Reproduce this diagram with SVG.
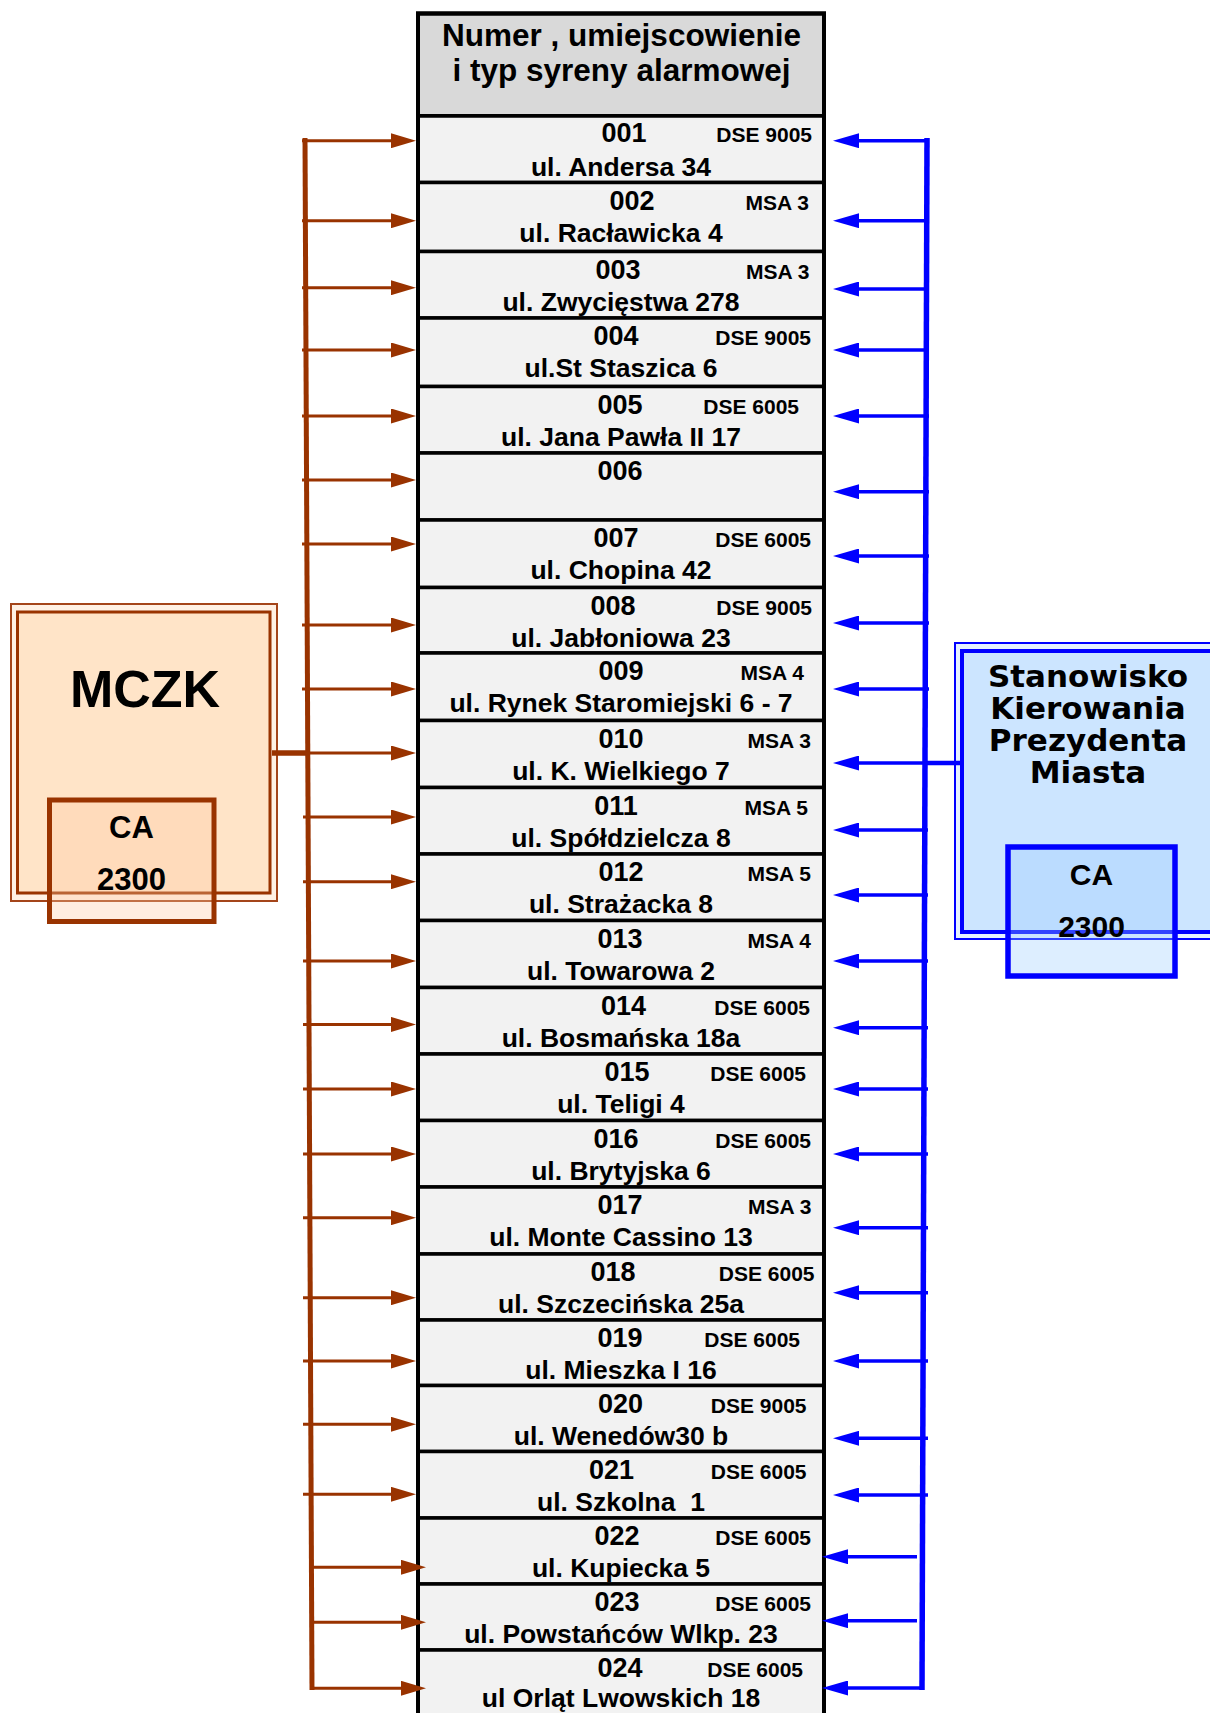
<svg xmlns="http://www.w3.org/2000/svg" width="1210" height="1713" viewBox="0 0 1210 1713">
<defs>
<marker id="ab" viewBox="0 0 25 15" refX="0" refY="7.5" markerWidth="25" markerHeight="15" markerUnits="userSpaceOnUse" orient="auto"><path d="M0,0 L25,7.5 L0,15 z" fill="#993300"/></marker>
<marker id="bb" viewBox="0 0 26 15" refX="0" refY="7.5" markerWidth="26" markerHeight="15" markerUnits="userSpaceOnUse" orient="auto"><path d="M0,0 L26,7.5 L0,15 z" fill="#0000FF"/></marker>
</defs>
<style>
.t{font-family:"Liberation Sans",Arial,sans-serif;font-weight:bold;fill:#000}
.num{font-size:27px;text-anchor:middle}
.typ{font-size:21px;text-anchor:end}
.adr{font-size:26.5px;text-anchor:middle;white-space:pre}
.row{fill:#F2F2F2;stroke:#000;stroke-width:3.5}
.br{stroke:#993300;stroke-width:3;fill:none}
.bl{stroke:#0000FF;stroke-width:3.5;fill:none}
.dv{font-family:"DejaVu Sans",Verdana,sans-serif;font-weight:bold;font-size:31px;text-anchor:middle;fill:#000}
</style>
<rect width="1210" height="1713" fill="#FFFFFF"/>

<g id="mczk">
<rect x="11" y="604" width="266" height="297" fill="#FFF1E4" stroke="#A4451A" stroke-width="2"/>
<rect x="17.5" y="612" width="252.5" height="281" fill="#FFE4C8" stroke="#993300" stroke-width="3"/>
<text class="t" x="145" y="707" font-size="52" text-anchor="middle">MCZK</text>
<rect x="49.5" y="800" width="164.5" height="121.5" fill="#FFC9A2" fill-opacity="0.33" stroke="#993300" stroke-width="5"/>
<text class="t" x="131.5" y="838" font-size="31" text-anchor="middle">CA</text>
<text class="t" x="131.5" y="890" font-size="31" text-anchor="middle">2300</text>
</g>

<g id="skpm">
<rect x="955" y="643" width="280" height="296" fill="#E6F1FF" stroke="#0000FF" stroke-width="2"/>
<rect x="962" y="651" width="270" height="281" fill="#CCE5FF" stroke="#0000FF" stroke-width="4"/>
<text class="dv" x="1088" y="686.5">Stanowisko</text>
<text class="dv" x="1088" y="719">Kierowania</text>
<text class="dv" x="1088" y="751">Prezydenta</text>
<text class="dv" x="1088" y="782.5">Miasta</text>
<rect x="1008" y="847" width="167" height="129" fill="#99CCFF" fill-opacity="0.33" stroke="#0000FF" stroke-width="5.5"/>
<text class="t" x="1091.5" y="884.5" font-size="30" text-anchor="middle">CA</text>
<text class="t" x="1091.5" y="937" font-size="30" text-anchor="middle">2300</text>
</g>

<g id="table">
<g id="header">
<rect x="418" y="13.5" width="406" height="102.5" fill="#D9D9D9" stroke="#000" stroke-width="4"/>
<text class="t" x="621.5" y="46" font-size="31.5" text-anchor="middle">Numer , umiejscowienie</text>
<text class="t" x="621.5" y="81" font-size="31.5" text-anchor="middle">i typ syreny alarmowej</text>
</g>
<g id="row-001"><rect class="row" x="418" y="116" width="406" height="66.5"/><text class="t num" x="624" y="142">001</text><text class="t typ" x="812" y="142">DSE 9005</text><text class="t adr" x="621" y="175.5">ul. Andersa 34</text></g>
<g id="row-002"><rect class="row" x="418" y="182.5" width="406" height="69"/><text class="t num" x="632" y="209.5">002</text><text class="t typ" x="809" y="209.5">MSA 3</text><text class="t adr" x="621" y="241.5">ul. Racławicka 4</text></g>
<g id="row-003"><rect class="row" x="418" y="251.5" width="406" height="66.5"/><text class="t num" x="618" y="278.5">003</text><text class="t typ" x="809.5" y="278.5">MSA 3</text><text class="t adr" x="621" y="310.5">ul. Zwycięstwa 278</text></g>
<g id="row-004"><rect class="row" x="418" y="318" width="406" height="68.5"/><text class="t num" x="616" y="345">004</text><text class="t typ" x="811" y="345">DSE 9005</text><text class="t adr" x="621" y="377">ul.St Staszica 6</text></g>
<g id="row-005"><rect class="row" x="418" y="386.5" width="406" height="66.5"/><text class="t num" x="620" y="413.5">005</text><text class="t typ" x="799" y="413.5">DSE 6005</text><text class="t adr" x="621" y="445.5">ul. Jana Pawła II 17</text></g>
<g id="row-006"><rect class="row" x="418" y="453" width="406" height="67"/><text class="t num" x="620" y="480">006</text></g>
<g id="row-007"><rect class="row" x="418" y="520" width="406" height="67.5"/><text class="t num" x="616" y="547">007</text><text class="t typ" x="811" y="547">DSE 6005</text><text class="t adr" x="621" y="579">ul. Chopina 42</text></g>
<g id="row-008"><rect class="row" x="418" y="587.5" width="406" height="65.5"/><text class="t num" x="613" y="614.5">008</text><text class="t typ" x="812" y="614.5">DSE 9005</text><text class="t adr" x="621" y="646.5">ul. Jabłoniowa 23</text></g>
<g id="row-009"><rect class="row" x="418" y="653" width="406" height="67.5"/><text class="t num" x="621" y="679.5">009</text><text class="t typ" x="804" y="679.5">MSA 4</text><text class="t adr" x="621" y="712">ul. Rynek Staromiejski 6 - 7</text></g>
<g id="row-010"><rect class="row" x="418" y="720.5" width="406" height="67"/><text class="t num" x="621" y="747.5">010</text><text class="t typ" x="811" y="747.5">MSA 3</text><text class="t adr" x="621" y="779.5">ul. K. Wielkiego 7</text></g>
<g id="row-011"><rect class="row" x="418" y="787.5" width="406" height="66.5"/><text class="t num" x="616" y="814.5">011</text><text class="t typ" x="808" y="814.5">MSA 5</text><text class="t adr" x="621" y="846.5">ul. Spółdzielcza 8</text></g>
<g id="row-012"><rect class="row" x="418" y="854" width="406" height="66.5"/><text class="t num" x="621" y="881">012</text><text class="t typ" x="811" y="881">MSA 5</text><text class="t adr" x="621" y="913">ul. Strażacka 8</text></g>
<g id="row-013"><rect class="row" x="418" y="920.5" width="406" height="67"/><text class="t num" x="620" y="947.5">013</text><text class="t typ" x="811" y="947.5">MSA 4</text><text class="t adr" x="621" y="979.5">ul. Towarowa 2</text></g>
<g id="row-014"><rect class="row" x="418" y="987.5" width="406" height="66.5"/><text class="t num" x="623.5" y="1014.5">014</text><text class="t typ" x="810" y="1014.5">DSE 6005</text><text class="t adr" x="621" y="1046.5">ul. Bosmańska 18a</text></g>
<g id="row-015"><rect class="row" x="418" y="1054" width="406" height="66.5"/><text class="t num" x="627" y="1081">015</text><text class="t typ" x="806" y="1081">DSE 6005</text><text class="t adr" x="621" y="1113">ul. Teligi 4</text></g>
<g id="row-016"><rect class="row" x="418" y="1120.5" width="406" height="66.5"/><text class="t num" x="616" y="1147.5">016</text><text class="t typ" x="811" y="1147.5">DSE 6005</text><text class="t adr" x="621" y="1179.5">ul. Brytyjska 6</text></g>
<g id="row-017"><rect class="row" x="418" y="1187" width="406" height="67"/><text class="t num" x="620" y="1214">017</text><text class="t typ" x="811.5" y="1214">MSA 3</text><text class="t adr" x="621" y="1246">ul. Monte Cassino 13</text></g>
<g id="row-018"><rect class="row" x="418" y="1254" width="406" height="66"/><text class="t num" x="613" y="1281">018</text><text class="t typ" x="814.5" y="1281">DSE 6005</text><text class="t adr" x="621" y="1313">ul. Szczecińska 25a</text></g>
<g id="row-019"><rect class="row" x="418" y="1320" width="406" height="65.5"/><text class="t num" x="620" y="1347">019</text><text class="t typ" x="800" y="1347">DSE 6005</text><text class="t adr" x="621" y="1379">ul. Mieszka I 16</text></g>
<g id="row-020"><rect class="row" x="418" y="1385.5" width="406" height="66"/><text class="t num" x="620.5" y="1412.5">020</text><text class="t typ" x="806.5" y="1412.5">DSE 9005</text><text class="t adr" x="621" y="1444.5">ul. Wenedów30 b</text></g>
<g id="row-021"><rect class="row" x="418" y="1451.5" width="406" height="66.5"/><text class="t num" x="611.6" y="1478.5">021</text><text class="t typ" x="806.5" y="1478.5">DSE 6005</text><text class="t adr" x="621" y="1510.5" xml:space="preserve">ul. Szkolna  1</text></g>
<g id="row-022"><rect class="row" x="418" y="1518" width="406" height="66"/><text class="t num" x="617" y="1545">022</text><text class="t typ" x="811" y="1545">DSE 6005</text><text class="t adr" x="621" y="1577">ul. Kupiecka 5</text></g>
<g id="row-023"><rect class="row" x="418" y="1584" width="406" height="66"/><text class="t num" x="617" y="1611">023</text><text class="t typ" x="811" y="1611">DSE 6005</text><text class="t adr" x="621" y="1643">ul. Powstańców Wlkp. 23</text></g>
<g id="row-024"><rect class="row" x="418" y="1650" width="406" height="70"/><text class="t num" x="620" y="1677">024</text><text class="t typ" x="803" y="1677">DSE 6005</text><text class="t adr" x="621" y="1707">ul Orląt Lwowskich 18</text></g>
<rect x="418" y="13.5" width="406" height="1710" fill="none" stroke="#000" stroke-width="4"/>
</g>

<g id="connectors">
<line x1="272" y1="753" x2="306" y2="753" stroke="#993300" stroke-width="5.5"/>
<line x1="305" y1="138" x2="312" y2="1690" stroke="#993300" stroke-width="5"/>
<line class="br" x1="302" y1="140.7" x2="391" y2="140.7" marker-end="url(#ab)"/>
<line class="br" x1="302" y1="220.7" x2="391" y2="220.7" marker-end="url(#ab)"/>
<line class="br" x1="302" y1="287.7" x2="391" y2="287.7" marker-end="url(#ab)"/>
<line class="br" x1="302" y1="350" x2="391" y2="350" marker-end="url(#ab)"/>
<line class="br" x1="302" y1="416" x2="391" y2="416" marker-end="url(#ab)"/>
<line class="br" x1="302" y1="480" x2="391" y2="480" marker-end="url(#ab)"/>
<line class="br" x1="302" y1="544" x2="391" y2="544" marker-end="url(#ab)"/>
<line class="br" x1="302" y1="625" x2="391" y2="625" marker-end="url(#ab)"/>
<line class="br" x1="302" y1="689" x2="391" y2="689" marker-end="url(#ab)"/>
<line class="br" x1="302" y1="753" x2="391" y2="753" marker-end="url(#ab)"/>
<line class="br" x1="303" y1="817" x2="391" y2="817" marker-end="url(#ab)"/>
<line class="br" x1="303" y1="881.7" x2="391" y2="881.7" marker-end="url(#ab)"/>
<line class="br" x1="303" y1="961" x2="391" y2="961" marker-end="url(#ab)"/>
<line class="br" x1="303" y1="1024.4" x2="391" y2="1024.4" marker-end="url(#ab)"/>
<line class="br" x1="303" y1="1089" x2="391" y2="1089" marker-end="url(#ab)"/>
<line class="br" x1="303" y1="1154" x2="391" y2="1154" marker-end="url(#ab)"/>
<line class="br" x1="303" y1="1217.7" x2="391" y2="1217.7" marker-end="url(#ab)"/>
<line class="br" x1="303" y1="1297.7" x2="391" y2="1297.7" marker-end="url(#ab)"/>
<line class="br" x1="303" y1="1361" x2="391" y2="1361" marker-end="url(#ab)"/>
<line class="br" x1="303" y1="1424.3" x2="391" y2="1424.3" marker-end="url(#ab)"/>
<line class="br" x1="303" y1="1494.3" x2="391" y2="1494.3" marker-end="url(#ab)"/>
<line class="br" x1="312" y1="1567.3" x2="401" y2="1567.3" marker-end="url(#ab)"/>
<line class="br" x1="312" y1="1622.3" x2="401" y2="1622.3" marker-end="url(#ab)"/>
<line class="br" x1="310" y1="1688.3" x2="401" y2="1688.3" marker-end="url(#ab)"/>

<line x1="925" y1="763" x2="961" y2="763" stroke="#0000FF" stroke-width="4.5"/>
<line x1="927" y1="138" x2="922" y2="1690" stroke="#0000FF" stroke-width="5.5"/>
<line class="bl" x1="929" y1="140.7" x2="859" y2="140.7" marker-end="url(#bb)"/>
<line class="bl" x1="929" y1="220.7" x2="859" y2="220.7" marker-end="url(#bb)"/>
<line class="bl" x1="929" y1="289" x2="859" y2="289" marker-end="url(#bb)"/>
<line class="bl" x1="929" y1="350" x2="859" y2="350" marker-end="url(#bb)"/>
<line class="bl" x1="929" y1="416" x2="859" y2="416" marker-end="url(#bb)"/>
<line class="bl" x1="929" y1="491.7" x2="859" y2="491.7" marker-end="url(#bb)"/>
<line class="bl" x1="929" y1="556" x2="859" y2="556" marker-end="url(#bb)"/>
<line class="bl" x1="929" y1="623" x2="859" y2="623" marker-end="url(#bb)"/>
<line class="bl" x1="929" y1="689" x2="859" y2="689" marker-end="url(#bb)"/>
<line class="bl" x1="929" y1="763" x2="859" y2="763" marker-end="url(#bb)"/>
<line class="bl" x1="928" y1="830" x2="859" y2="830" marker-end="url(#bb)"/>
<line class="bl" x1="928" y1="895" x2="859" y2="895" marker-end="url(#bb)"/>
<line class="bl" x1="928" y1="961" x2="859" y2="961" marker-end="url(#bb)"/>
<line class="bl" x1="928" y1="1027.7" x2="859" y2="1027.7" marker-end="url(#bb)"/>
<line class="bl" x1="928" y1="1089" x2="859" y2="1089" marker-end="url(#bb)"/>
<line class="bl" x1="928" y1="1154" x2="859" y2="1154" marker-end="url(#bb)"/>
<line class="bl" x1="928" y1="1227.7" x2="859" y2="1227.7" marker-end="url(#bb)"/>
<line class="bl" x1="928" y1="1292.7" x2="859" y2="1292.7" marker-end="url(#bb)"/>
<line class="bl" x1="928" y1="1361" x2="859" y2="1361" marker-end="url(#bb)"/>
<line class="bl" x1="928" y1="1438.3" x2="859" y2="1438.3" marker-end="url(#bb)"/>
<line class="bl" x1="928" y1="1495" x2="859" y2="1495" marker-end="url(#bb)"/>
<line class="bl" x1="917" y1="1556.7" x2="848" y2="1556.7" marker-end="url(#bb)"/>
<line class="bl" x1="917" y1="1620.7" x2="848" y2="1620.7" marker-end="url(#bb)"/>
<line class="bl" x1="924" y1="1688" x2="848" y2="1688" marker-end="url(#bb)"/>
</g>
</svg>
